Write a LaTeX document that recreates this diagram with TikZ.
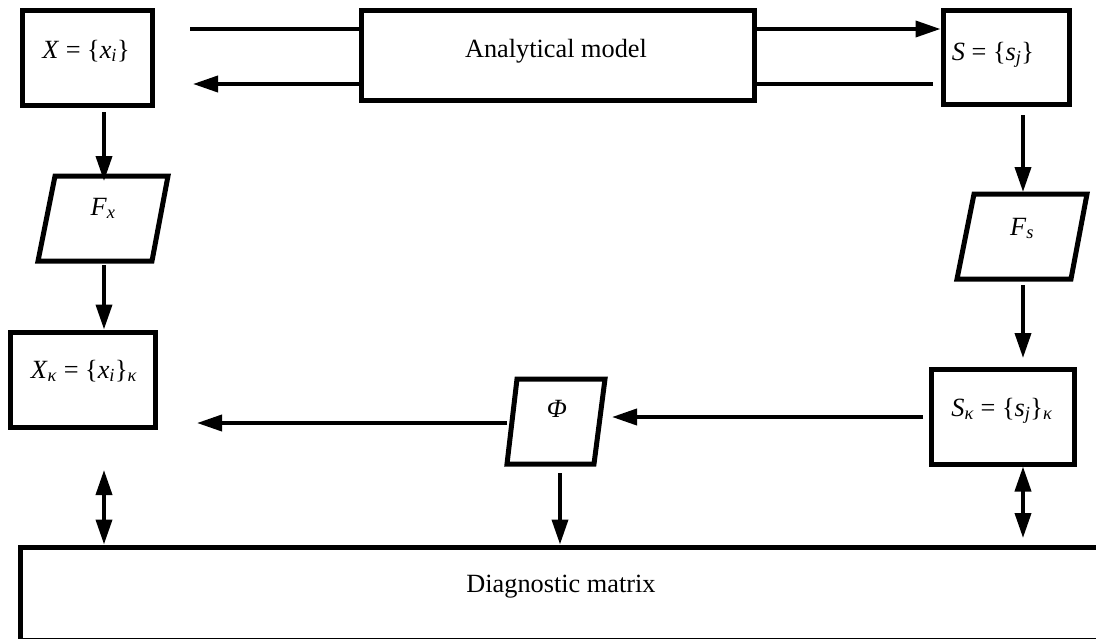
\documentclass[tikz,border=0pt]{standalone}
\usepackage{fontspec}
\setmainfont{Liberation Serif}
\usetikzlibrary{arrows.meta}
\newcommand{\mi}[1]{\textit{#1}}
\begin{document}
\begin{tikzpicture}[x=1pt,y=-1pt,
  box/.style={draw, line width=5pt, inner sep=0pt},
  para/.style={draw, line width=5pt, line join=miter},
  conn/.style={line width=3.8pt},
  arr/.style={conn, -{Triangle[length=25pt,width=16pt]}},
  darr/.style={conn, {Triangle[length=25pt,width=16pt]}-{Triangle[length=25pt,width=16pt]}},
  lab/.style={anchor=base, inner sep=0pt, font=\fontsize{26.3}{30}\selectfont}]
\clip (0,0) rectangle (1096,638);
\fill[white] (0,0) rectangle (1096,638);

% boxes
\node[box, minimum width=130pt, minimum height=95pt] (X) at (87,57.5) {};
\node[box, minimum width=393pt, minimum height=90pt] (AM) at (557.5,55) {};
\node[box, minimum width=126pt, minimum height=94pt] (S) at (1006,57) {};
\node[box, minimum width=145pt, minimum height=95pt] (Xk) at (82.5,379.5) {};
\node[box, minimum width=143pt, minimum height=95pt] (Sk) at (1002.5,416.5) {};
\node[box, minimum width=1079.5pt, minimum height=93pt] (D) at (560.25,593.5) {};

% parallelograms
\draw[para] (55,176) -- (168,176) -- (152,261) -- (38,261) -- cycle;
\draw[para] (974,194) -- (1087,194) -- (1071,279) -- (957,279) -- cycle;
\draw[para] (517,379) -- (605,379) -- (594,464) -- (507,464) -- cycle;

% texts
\node[lab] (Xt) at (86,58) {\mi{X} = \{\mi{x}\textsubscript{\mi{i}}\}};
\node[lab] (AMt) at (556,57) {Analytical model};
\node[lab] (St) at (993,60) {\mi{S} = \{\mi{s}\textsubscript{\mi{j}}\}};
\node[lab] (Fx) at (103,215) {\mi{F}\textsubscript{\mi{x}}};
\node[lab] (Fs) at (1022,235) {\mi{F}\textsubscript{\mi{s}}};
\node[lab] (Xkt) at (84,378) {\mi{X}\textsubscript{\mi{κ}} = \{\mi{x}\textsubscript{\mi{i}}\}\textsubscript{\mi{κ}}};
\node[lab] (Skt) at (1002,416) {\mi{S}\textsubscript{\mi{κ}} = \{\mi{s}\textsubscript{\mi{j}}\}\textsubscript{\mi{κ}}};
\node[lab] (Phi) at (557,417) {\mi{Φ}};
\node[lab] (Dt) at (561,592) {Diagnostic matrix};

% connector end points
\coordinate (c1) at (190,29);
\coordinate (c2) at (933,84);
\coordinate (c3) at (193,84);
\coordinate (xa) at (104,112);
\coordinate (xb) at (104,181);
\coordinate (xc) at (104,265);
\coordinate (xd) at (104,470);
\coordinate (sa) at (1023,115);
\coordinate (sb) at (1023,192);
\coordinate (sc) at (1023,285);
\coordinate (sd) at (1023,358);
\coordinate (se) at (1023,538);
\coordinate (pa) at (923,417);
\coordinate (pb) at (612,417);
\coordinate (pc) at (507,423);
\coordinate (pd) at (197,423);
\coordinate (pe) at (560,473);

% connectors
\draw[conn] (c1) -- (c1 -| AM.west);
\draw[arr] (c1 -| AM.east) -- (c1 -| S.west);
\draw[conn] (c2) -- (c2 -| AM.east);
\draw[arr] (c2 -| AM.west) -- (c3);
\draw[arr] (xa) -- (xb);
\draw[arr] (xc) -- (xc |- Xk.north);
\draw[darr] (xd) -- (xd |- D.north);
\draw[arr] (sa) -- (sb);
\draw[arr] (sc) -- (sd);
\draw[darr] (sa |- Sk.south) -- (se);
\draw[arr] (pa) -- (pb);
\draw[arr] (pc) -- (pd);
\draw[arr] (pe) -- (pe |- D.north);
\end{tikzpicture}
\end{document}
